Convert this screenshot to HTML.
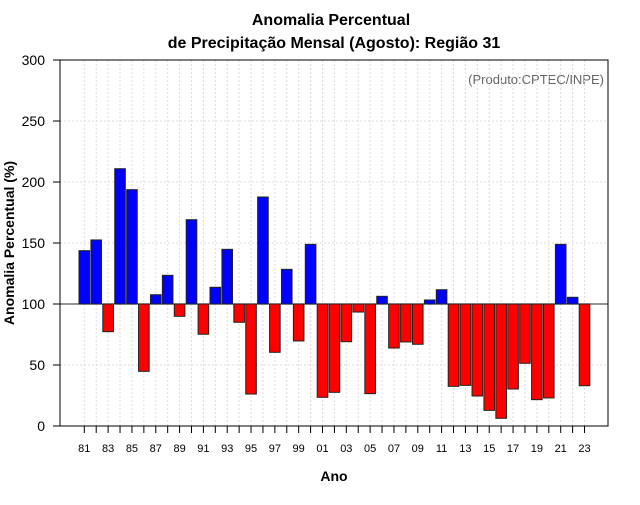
<!DOCTYPE html>
<html><head><meta charset="utf-8"><style>
body{margin:0;background:#fff;font-family:"Liberation Sans",sans-serif}
</style></head><body>
<svg id="c" width="640" height="500" xmlns="http://www.w3.org/2000/svg" font-family="Liberation Sans, sans-serif">
<text x="331" y="25" text-anchor="middle" font-size="16" font-weight="bold">Anomalia Percentual</text>
<text x="334" y="48" text-anchor="middle" font-size="16" font-weight="bold">de Precipitação Mensal (Agosto): Região 31</text>
<text x="604" y="84" text-anchor="end" font-size="13" fill="#666">(Produto:CPTEC/INPE)</text>
<text x="334" y="481" text-anchor="middle" font-size="14" font-weight="bold">Ano</text>
<text transform="translate(14,243) rotate(-90)" text-anchor="middle" font-size="14" font-weight="bold">Anomalia Percentual (%)</text>
<g id="grid"></g><g id="bars"></g><g id="axes"></g>
<rect x="60" y="60" width="548" height="366" fill="none" stroke="#000"/>
</svg>
<script>
const years=["81","82","83","84","85","86","87","88","89","90","91","92","93","94","95","96","97","98","99","00","01","02","03","04","05","06","07","08","09","10","11","12","13","14","15","16","17","18","19","20","21","22","23"];
const values=[143.7,152.5,77.3,210.9,193.7,44.8,107.6,123.5,89.9,169.1,75.2,113.7,144.8,85,26.2,187.7,60.4,128.4,69.7,148.9,23.5,27.6,69.1,93.4,26.5,106.3,63.9,68.9,67,103.3,111.7,32.5,33.3,24.6,12.8,6.3,30.3,51.4,21.6,23,148.9,105.5,33];
const yTicks=[0,50,100,150,200,250,300];
const NS="http://www.w3.org/2000/svg";
const y=v=>426-v*1.22;
const x=i=>84.3+i*11.91;
const mk=(p,t,a)=>{const e=document.createElementNS(NS,t);for(const k in a)e.setAttribute(k,a[k]);p.appendChild(e);return e;};
const grid=document.getElementById('grid'),bars=document.getElementById('bars'),axes=document.getElementById('axes');
yTicks.forEach(v=>{
 const g=mk(grid,'line',{x1:60,x2:608,y1:y(v),y2:y(v),stroke:'#ddd','stroke-dasharray':'2,2'});
 
 
 const t=mk(axes,'line',{x1:53,x2:60,y1:y(v),y2:y(v),stroke:'#000'});
 
 
 const l=mk(axes,'text',{x:45,y:y(v)+5,'text-anchor':'end','font-size':14});
 l.textContent=v;
 
 
});
years.forEach((yr,i)=>{
 const cx=x(i);
 const g=mk(grid,'line',{x1:cx,x2:cx,y1:60,y2:426,stroke:'#ddd','stroke-dasharray':'2,2'});
 
 
 const t=mk(axes,'line',{x1:cx,x2:cx,y1:426,y2:433,stroke:'#000'});
 
 
 if(i%2===0){const l=mk(axes,'text',{x:cx,y:452,'text-anchor':'middle','font-size':11});
 l.textContent=yr;
 
 }
});
mk(grid,'line',{x1:60,x2:608,y1:y(100),y2:y(100),stroke:'#555','stroke-width':1.2});
values.forEach((v,i)=>{
 const top=Math.min(y(v),y(100)),h=Math.abs(y(v)-y(100));
 const b=mk(bars,'rect',{x:x(i)-5.3,y:top,width:10.6,height:h,fill:v>=100?'#0000ff':'#ff0000',stroke:'#222','stroke-width':1});
 
 
});
</script>
</body></html>
